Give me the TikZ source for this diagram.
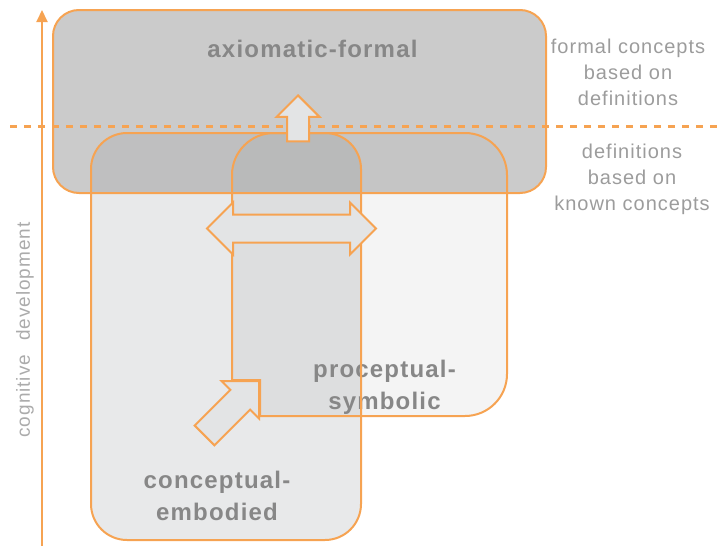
\documentclass[tikz,border=0pt]{standalone}
\usepackage{fontspec}
\setmainfont{Liberation Sans}
\newfontfamily\tagfont[LetterSpace=5]{Liberation Sans}
\usetikzlibrary{arrows.meta,shapes.arrows}
\definecolor{vorange}{HTML}{F6A352}
\definecolor{vtop}{HTML}{979797}
\definecolor{vemb}{HTML}{E8E9EA}
\definecolor{vsym}{HTML}{F4F4F4}
\definecolor{vblk}{HTML}{E3E4E5}
\definecolor{vink}{HTML}{878787}
\definecolor{vnote}{HTML}{9C9C9C}
\newcommand{\toppath}{[rounded corners=26] (53,10) rectangle (546,193)}
\newcommand{\embpath}{[rounded corners=36] (91,133) rectangle (361,540)}
\newcommand{\sympath}{(370,133) [rounded corners=42] -- (507,133) -- (507,416) -- (390,416) [sharp corners] -- (260,416) -- (260,380) -- (232,380) -- (232,260) [rounded corners=42] -- (232,133) -- cycle}
\tikzset{
  rim/.style={draw=vorange,line width=2pt},
  blk/.style={draw=vorange,line width=2pt,fill=vblk,inner xsep=0pt},
  title/.style={font=\tagfont\bfseries\fontsize{24}{32}\selectfont,text=vink,align=center,inner sep=0pt},
  note/.style={font=\tagfont\fontsize{20}{26}\selectfont,text=vnote,align=center,inner sep=0pt},
  axis/.style={draw=vorange,line width=2pt,-{Triangle[length=12pt,width=11pt]}},
  split/.style={draw=vorange,line width=3pt,dash pattern=on 7pt off 7pt},
}
\begin{document}
\begin{tikzpicture}[x=1pt,y=-1pt]
  \useasboundingbox (0,0) rectangle (722,546);
  \begin{scope}[blend mode=multiply]
    \fill[vemb] \embpath; \fill[vsym] \sympath;
  \end{scope}
  \fill[vtop,fill opacity=0.5] \toppath;
  \node[title,anchor=base] (af) at (312.5,57) {axiomatic-formal};
  \node[title,anchor=north] (ce) at (217,470.8) {conceptual-\\embodied};
  \node[title,anchor=north] (ps) at (384.5,359.8) {proceptual-\\symbolic};
  \node[note,anchor=north] (fd) at (628,38.5) {formal concepts\\based on\\definitions};
  \node[note,anchor=north] (dk) at (632,143.5) {definitions\\based on\\known concepts};
  \node[note,font=\tagfont\fontsize{19}{24}\selectfont,text=vnote!85,rotate=90] (cd) at (25,330) {cognitive\hspace{14pt}development};
  \draw[rim] \embpath; \draw[rim] \sympath; \draw[rim] \toppath;
  \coordinate (wl) at (10,126); \coordinate (wr) at (722,126);
  \draw[split] (wl) -- (wr);
  \coordinate (foot) at (42,546); \coordinate (peak) at (42,10);
  \draw[axis] (foot) -- (peak);
  \node[blk,single arrow,inner ysep=10pt,single arrow head extend=10.5pt,minimum height=46pt,rotate=90,anchor=tip] (rise) at (298,94) {};
  \node[blk,double arrow,inner ysep=13pt,double arrow head extend=12pt,minimum height=169pt] (swap) at (291.5,228.5) {};
  \node[blk,single arrow,inner ysep=13pt,single arrow head extend=12.5pt,minimum height=77pt,rotate=45,anchor=tip] (lift) at (260,380) {};
\end{tikzpicture}
\end{document}
